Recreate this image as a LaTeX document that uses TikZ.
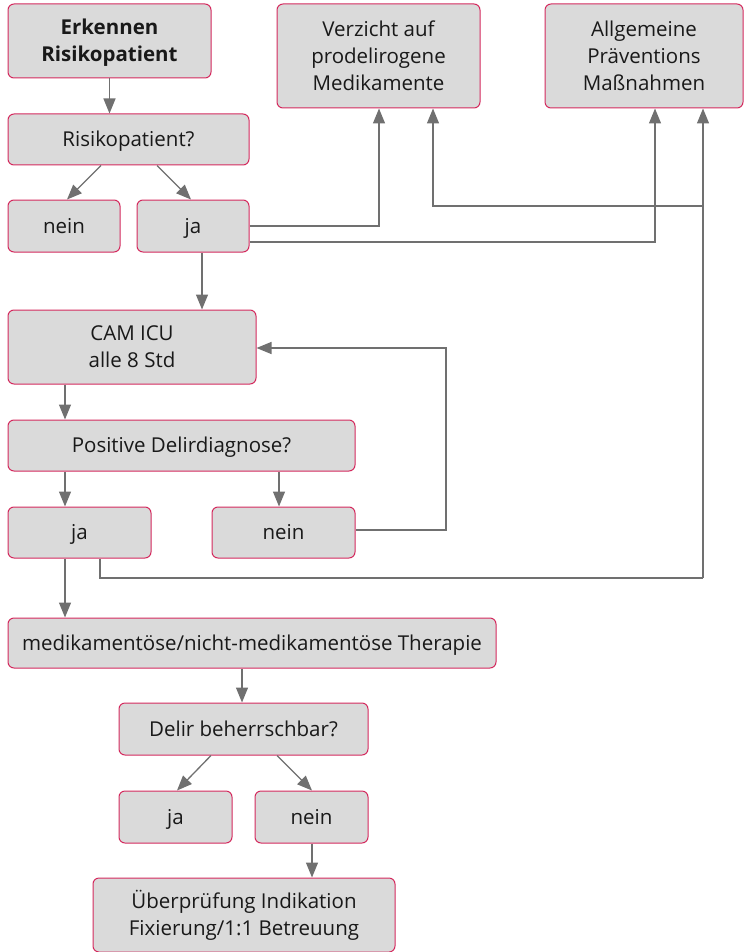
\documentclass[tikz,border=0pt]{standalone}
\usepackage{fontspec}
\setmainfont{Open Sans}
\usetikzlibrary{arrows.meta}
\definecolor{boxfill}{HTML}{DADADA}
\definecolor{boxline}{HTML}{D42A5E}
\definecolor{conncol}{HTML}{707070}
\newcommand{\bfont}{\fontsize{20.5}{27}\selectfont}
\newcommand{\st}{\vrule height 19pt depth 4.2pt width 0pt}
\tikzset{
  box/.style={draw=boxline, fill=boxfill, line width=1pt, rounded corners=6pt,
    inner sep=0pt, align=center, font=\bfont, text=black!90},
  conn/.style={draw=conncol, line width=1.3pt, -{Triangle[length=15pt,width=12pt]}},
  plain/.style={draw=conncol, line width=1.3pt}
}
\begin{document}
\begin{tikzpicture}[x=1pt,y=-1pt]
\useasboundingbox (0,0) rectangle (744,952);
% boxes
\node[box, minimum width=203pt, minimum height=74pt, font=\bfont\bfseries] (erk) at (109.5,41) {\st Erkennen\\\st Risikopatient};
\node[box, minimum width=241pt, minimum height=51pt] (risk) at (128.5,139.5) {\st Risikopatient?};
\node[box, minimum width=112pt, minimum height=52pt] (nein1) at (64,226) {\st nein};
\node[box, minimum width=112pt, minimum height=52pt] (ja1) at (193,226) {\st ja};
\node[box, minimum width=203pt, minimum height=104pt] (verz) at (378.5,56) {\st Verzicht auf\\\st prodelirogene\\\st Medikamente};
\node[box, minimum width=198pt, minimum height=104pt] (allg) at (644,56) {\st Allgemeine\\\st Präventions\\\st Maßnahmen};
\node[box, minimum width=248pt, minimum height=74pt] (cam) at (132,347) {\st CAM ICU\\\st alle 8 Std};
\node[box, minimum width=347pt, minimum height=51pt] (pos) at (181.5,445.5) {\st Positive Delirdiagnose?};
\node[box, minimum width=143pt, minimum height=51pt] (ja2) at (79.5,532.5) {\st ja};
\node[box, minimum width=143pt, minimum height=51pt] (nein2) at (283.5,532.5) {\st nein};
\node[box, minimum width=488pt, minimum height=50pt] (ther) at (252,643) {\st medikamentöse/nicht-medikamentöse Therapie};
\node[box, minimum width=249pt, minimum height=52pt] (delir) at (243.5,729) {\st Delir beherrschbar?};
\node[box, minimum width=113pt, minimum height=52pt] (ja3) at (175.5,817) {\st ja};
\node[box, minimum width=113pt, minimum height=52pt] (nein3) at (311.5,817) {\st nein};
\node[box, minimum width=302pt, minimum height=74pt] (ueber) at (244,915) {\st Überprüfung Indikation\\\st Fixierung/1:1 Betreuung};
% connectors
\draw[conn] (erk.south) -- (risk.north -| erk.south);
\draw[conn] (risk.south -| 101,0) -- (nein1.north -| 67,0);
\draw[conn] (risk.south -| 157,0) -- (ja1.north -| 191,0);
\draw[conn] (ja1.east) -| (verz.south -| 379,0);
\draw[conn] (ja1.east |- 0,242) -| (allg.south -| 655,0);
\draw[conn] (ja1.south -| 202,0) -- (cam.north -| 202,0);
\draw[conn] (cam.south -| 65,0) -- (pos.north -| 65,0);
\draw[conn] (pos.south -| 65,0) -- (ja2.north -| 65,0);
\draw[conn] (pos.south -| 279,0) -- (nein2.north -| 279,0);
\draw[conn] (nein2.east |- 0,530) -| (446,348) -- (cam.east |- 0,348);
\coordinate (junA) at (703,578);
\coordinate (junB) at (703,206);
\draw[plain] (ja2.south -| 100,0) |- (junA);
\draw[conn] (junA) -- (allg.south -| junA);
\draw[conn] (junB) -| (verz.south -| 433,0);
\draw[conn] (ja2.south -| 65,0) -- (ther.north -| 65,0);
\draw[conn] (ther.south -| 242,0) -- (delir.north -| 242,0);
\draw[conn] (delir.south -| 211,0) -- (ja3.north -| 177,0);
\draw[conn] (delir.south -| 277,0) -- (nein3.north -| 312,0);
\draw[conn] (nein3.south -| 312,0) -- (ueber.north -| 312,0);
\end{tikzpicture}
\end{document}
